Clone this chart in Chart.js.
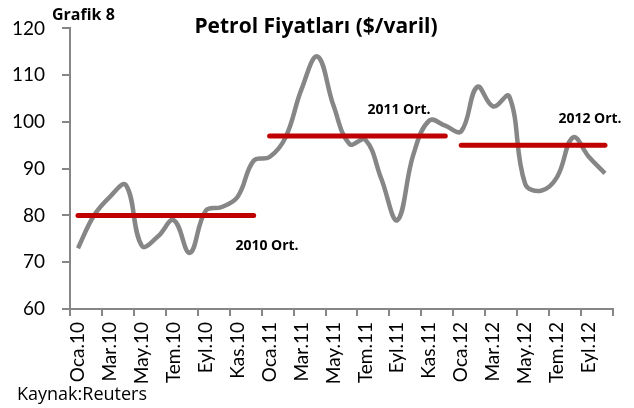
<!DOCTYPE html>
<html>
<head>
<meta charset="utf-8">
<script src="https://cdn.jsdelivr.net/npm/chart.js@4.4.0/dist/chart.umd.min.js"></script>
<style>
  html, body { margin: 0; padding: 0; background: #fff; }
  #wrap { width: 634px; height: 408px; position: relative; }
</style>
</head>
<body>
<div id="wrap"><canvas id="grafik"></canvas></div>
<script>
// Petrol fiyatları, aylık ($/varil) — Oca.10 .. Eki.12
const aylar = [
  'Oca.10', 'Şub.10', 'Mar.10', 'Nis.10', 'May.10', 'Haz.10', 'Tem.10', 'Ağu.10', 'Eyl.10', 'Eki.10', 'Kas.10', 'Ara.10',
  'Oca.11', 'Şub.11', 'Mar.11', 'Nis.11', 'May.11', 'Haz.11', 'Tem.11', 'Ağu.11', 'Eyl.11', 'Eki.11', 'Kas.11', 'Ara.11',
  'Oca.12', 'Şub.12', 'Mar.12', 'Nis.12', 'May.12', 'Haz.12', 'Tem.12', 'Ağu.12', 'Eyl.12', 'Eki.12'
];
const fiyat = [
  73, 80, 84, 86.5, 73.5, 75.5, 79, 72, 81, 81.8, 84, 91.7,
  92.5, 96.7, 107, 114, 103.5, 95.3, 96.2, 87.8, 79, 93, 100.3, 99.2,
  98, 107.5, 103.3, 105.5, 86.8, 85.3, 88.2, 96.7, 92.5, 89
];
const ort2010 = 80;
const ort2011 = 97;
const ort2012 = 95;
const yMin = 60, yMax = 120, yAdim = 10;

const GRI = '#868686';
const KIRMIZI = '#C00000';

// yıl ortalaması için sadece o yılın aylarında değer olan seri
function ortSeri(yil, deger) {
  return aylar.map(a => a.endsWith('.' + yil) ? deger : null);
}

const ortDataset = (yil, deger) => ({
  data: ortSeri(yil, deger),
  borderColor: KIRMIZI,
  borderWidth: 5,
  borderCapStyle: 'round',
  pointRadius: 0,
  fill: false,
  spanGaps: false,
  order: 1
});

// başlıklar ve etiketler
const metinler = {
  id: 'metinler',
  afterDraw(chart) {
    const c = chart.ctx;
    c.save();
    c.fillStyle = '#000';
    c.textBaseline = 'middle';

    c.textAlign = 'center';
    c.font = 'bold 21px "Open Sans"';
    c.fillText('Petrol Fiyatları ($/varil)', 316, 27);

    c.textAlign = 'left';
    c.font = 'bold 16px "Open Sans"';
    c.fillText('Grafik 8', 52, 15);

    c.font = '18px "Open Sans"';
    c.fillText('Kaynak:Reuters', 17, 395);

    c.textAlign = 'center';
    c.font = 'bold 14px "Open Sans"';
    c.fillText('2010 Ort.', 267, 246);
    c.fillText('2011 Ort.', 399, 110);
    c.fillText('2012 Ort.', 590, 119);
    c.restore();
  }
};

new Chart(document.getElementById('grafik'), {
  type: 'line',
  data: {
    labels: aylar,
    datasets: [
      {
        data: fiyat,
        borderColor: GRI,
        borderWidth: 4.5,
        tension: 0.4,
        pointRadius: 0,
        fill: false,
        order: 2
      },
      ortDataset('10', ort2010),
      ortDataset('11', ort2011),
      ortDataset('12', ort2012)
    ]
  },
  options: {
    responsive: true,
    maintainAspectRatio: false,
    animation: false,
    layout: { padding: { top: 23, right: 16, left: 0, bottom: 0 } },
    plugins: { legend: { display: false }, tooltip: { enabled: false } },
    scales: {
      x: {
        offset: true,
        border: { color: GRI, width: 2 },
        grid: {
          offset: true,
          drawOnChartArea: false,
          tickLength: 7,
          lineWidth: 2,
          color: ctx => (ctx.index === undefined || ctx.index % 2 === 0) ? GRI : 'rgba(0,0,0,0)'
        },
        ticks: {
          autoSkip: false,
          minRotation: 90,
          maxRotation: 90,
          padding: 6,
          color: '#000',
          font: { family: 'Lato', size: 19 },
          callback: (v, i) => i % 2 === 0 ? aylar[i] : ''
        },
        afterFit: s => { s.height = 99; }
      },
      y: {
        min: yMin,
        max: yMax,
        border: { color: GRI, width: 2 },
        grid: { drawOnChartArea: false, tickLength: 8, lineWidth: 2, color: GRI },
        ticks: {
          stepSize: yAdim,
          padding: 17,
          color: '#000',
          font: { family: 'Lato', size: 19 }
        },
        afterFit: s => { s.width = 70; }
      }
    }
  },
  plugins: [metinler]
});
</script>
</body>
</html>
